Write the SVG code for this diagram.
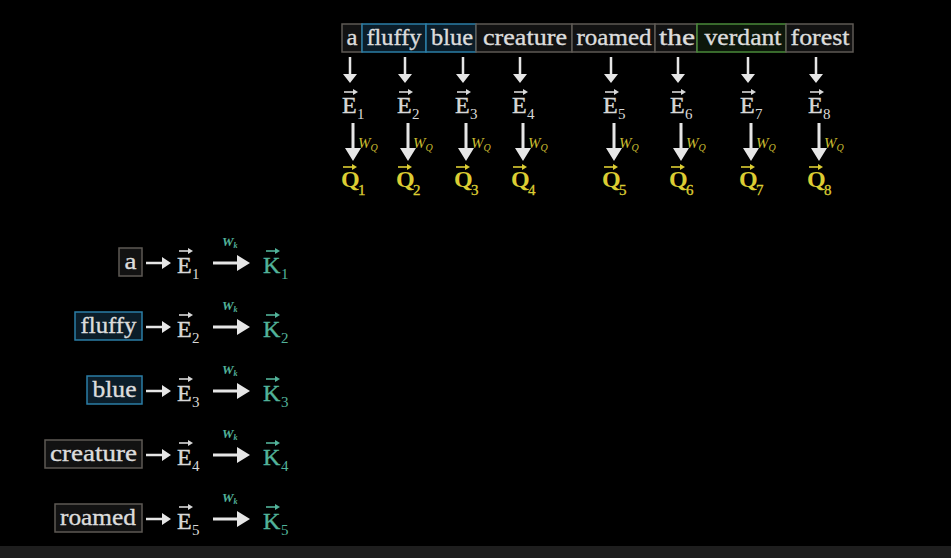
<svg xmlns="http://www.w3.org/2000/svg" width="951" height="558" viewBox="0 0 951 558">
<style>
text{font-family:"Liberation Serif","DejaVu Serif",serif}
.bg{fill:#000}
.strip{fill:#1e1e1e}
.w{font-size:24px;fill:#dcdcdc;stroke:#dcdcdc;stroke-width:0.35}
.bn{fill:#121212;stroke:#5e5954;stroke-width:1.5}
.bb{fill:#0b1d29;stroke:#2b7ea6;stroke-width:1.5}
.bg2{fill:#0d170b;stroke:#4a8a3a;stroke-width:1.5}
.ev{font-size:24px;fill:#d8d8d8;stroke:#d8d8d8;stroke-width:0.4}
.evs{font-size:15px;fill:#d8d8d8}
.qv{font-size:24px;fill:#dccd33;font-weight:bold}
.qvs{font-size:15px;fill:#dccd33;stroke:#dccd33;stroke-width:0.3}
.kv{font-size:24px;fill:#52b39a;stroke:#52b39a;stroke-width:0.4}
.kvs{font-size:15px;fill:#52b39a}
.wq{font-style:italic;font-size:15px;fill:#c9bc30}
.wqs{font-style:italic;font-size:10px;fill:#c9bc30}
.wk{font-style:italic;font-size:13px;fill:#52b39a;font-weight:bold}
.wks{font-style:italic;font-size:8px;fill:#52b39a;font-weight:bold}
.sh{stroke:#e6e6e6;stroke-width:2.5;fill:none}
.sh2{stroke:#e6e6e6;stroke-width:3;fill:none}
.hd{fill:#e6e6e6}
.va{stroke-width:1.6;fill:none}
</style>
<rect class="bg" x="0" y="0" width="951" height="558"/>
<rect class="strip" x="0" y="546" width="951" height="12"/>

<!-- top row words -->
<g id="tw-a"><rect class="bn" x="342" y="24" width="20" height="28"/><text class="w" x="352" y="45" text-anchor="middle" textLength="11" lengthAdjust="spacingAndGlyphs">a</text></g>
<g id="tw-fluffy"><rect class="bb" x="362" y="24" width="64" height="28"/><text class="w" x="394" y="45" text-anchor="middle" textLength="55" lengthAdjust="spacingAndGlyphs">fluffy</text></g>
<g id="tw-blue"><rect class="bb" x="426" y="24" width="50" height="28"/><text class="w" x="452" y="45" text-anchor="middle" textLength="42" lengthAdjust="spacingAndGlyphs">blue</text></g>
<g id="tw-creature"><rect class="bn" x="476" y="24" width="96" height="28"/><text class="w" x="525" y="45" text-anchor="middle" textLength="84" lengthAdjust="spacingAndGlyphs">creature</text></g>
<g id="tw-roamed"><rect class="bn" x="572" y="24" width="83" height="28"/><text class="w" x="614" y="45" text-anchor="middle" textLength="75" lengthAdjust="spacingAndGlyphs">roamed</text></g>
<g id="tw-the"><rect class="bn" x="655" y="24" width="42" height="28"/><text class="w" x="677" y="45" text-anchor="middle" textLength="36" lengthAdjust="spacingAndGlyphs">the</text></g>
<g id="tw-verdant"><rect class="bg2" x="697" y="24" width="89" height="28"/><text class="w" x="743" y="45" text-anchor="middle" textLength="77" lengthAdjust="spacingAndGlyphs">verdant</text></g>
<g id="tw-forest"><rect class="bn" x="786" y="24" width="67" height="28"/><text class="w" x="820" y="45" text-anchor="middle" textLength="59" lengthAdjust="spacingAndGlyphs">forest</text></g>

<!-- top embeddings and queries -->
<g id="te1"><text class="ev" x="342" y="113">E</text><text class="evs" x="357" y="119">1</text><path class="va" stroke="#d8d8d8" d="M344 92H354"/><path fill="#d8d8d8" d="M358 92l-5-3v6z"/></g>
<g id="te2"><text class="ev" x="397" y="113">E</text><text class="evs" x="412" y="119">2</text><path class="va" stroke="#d8d8d8" d="M399 92H409"/><path fill="#d8d8d8" d="M413 92l-5-3v6z"/></g>
<g id="te3"><text class="ev" x="455" y="113">E</text><text class="evs" x="470" y="119">3</text><path class="va" stroke="#d8d8d8" d="M457 92H467"/><path fill="#d8d8d8" d="M471 92l-5-3v6z"/></g>
<g id="te4"><text class="ev" x="512" y="113">E</text><text class="evs" x="527" y="119">4</text><path class="va" stroke="#d8d8d8" d="M514 92H524"/><path fill="#d8d8d8" d="M528 92l-5-3v6z"/></g>
<g id="te5"><text class="ev" x="603" y="113">E</text><text class="evs" x="618" y="119">5</text><path class="va" stroke="#d8d8d8" d="M605 92H615"/><path fill="#d8d8d8" d="M619 92l-5-3v6z"/></g>
<g id="te6"><text class="ev" x="670" y="113">E</text><text class="evs" x="685" y="119">6</text><path class="va" stroke="#d8d8d8" d="M672 92H682"/><path fill="#d8d8d8" d="M686 92l-5-3v6z"/></g>
<g id="te7"><text class="ev" x="740" y="113">E</text><text class="evs" x="755" y="119">7</text><path class="va" stroke="#d8d8d8" d="M742 92H752"/><path fill="#d8d8d8" d="M756 92l-5-3v6z"/></g>
<g id="te8"><text class="ev" x="808" y="113">E</text><text class="evs" x="823" y="119">8</text><path class="va" stroke="#d8d8d8" d="M810 92H820"/><path fill="#d8d8d8" d="M824 92l-5-3v6z"/></g>

<g id="tq1"><text class="qv" x="341" y="187">Q</text><text class="qvs" x="358" y="195">1</text><path class="va" stroke="#dccd33" d="M343 167H353"/><path fill="#dccd33" d="M357 167l-5-3v6z"/></g>
<g id="tq2"><text class="qv" x="396" y="187">Q</text><text class="qvs" x="413" y="195">2</text><path class="va" stroke="#dccd33" d="M398 167H408"/><path fill="#dccd33" d="M412 167l-5-3v6z"/></g>
<g id="tq3"><text class="qv" x="454" y="187">Q</text><text class="qvs" x="471" y="195">3</text><path class="va" stroke="#dccd33" d="M456 167H466"/><path fill="#dccd33" d="M470 167l-5-3v6z"/></g>
<g id="tq4"><text class="qv" x="511" y="187">Q</text><text class="qvs" x="528" y="195">4</text><path class="va" stroke="#dccd33" d="M513 167H523"/><path fill="#dccd33" d="M527 167l-5-3v6z"/></g>
<g id="tq5"><text class="qv" x="602" y="187">Q</text><text class="qvs" x="619" y="195">5</text><path class="va" stroke="#dccd33" d="M604 167H614"/><path fill="#dccd33" d="M618 167l-5-3v6z"/></g>
<g id="tq6"><text class="qv" x="669" y="187">Q</text><text class="qvs" x="686" y="195">6</text><path class="va" stroke="#dccd33" d="M671 167H681"/><path fill="#dccd33" d="M685 167l-5-3v6z"/></g>
<g id="tq7"><text class="qv" x="739" y="187">Q</text><text class="qvs" x="756" y="195">7</text><path class="va" stroke="#dccd33" d="M741 167H751"/><path fill="#dccd33" d="M755 167l-5-3v6z"/></g>
<g id="tq8"><text class="qv" x="807" y="187">Q</text><text class="qvs" x="824" y="195">8</text><path class="va" stroke="#dccd33" d="M809 167H819"/><path fill="#dccd33" d="M823 167l-5-3v6z"/></g>

<!-- left column -->
<g id="lw-a"><rect class="bn" x="119" y="248" width="23" height="28"/><text class="w" x="130.5" y="269" text-anchor="middle" textLength="12" lengthAdjust="spacingAndGlyphs">a</text></g>
<g id="lw-fluffy"><rect class="bb" x="75" y="312" width="67" height="28"/><text class="w" x="108.5" y="333" text-anchor="middle" textLength="56" lengthAdjust="spacingAndGlyphs">fluffy</text></g>
<g id="lw-blue"><rect class="bb" x="87" y="376" width="55" height="28"/><text class="w" x="114.5" y="397" text-anchor="middle" textLength="44" lengthAdjust="spacingAndGlyphs">blue</text></g>
<g id="lw-creature"><rect class="bn" x="45" y="440" width="97" height="28"/><text class="w" x="93.5" y="461" text-anchor="middle" textLength="87" lengthAdjust="spacingAndGlyphs">creature</text></g>
<g id="lw-roamed"><rect class="bn" x="55" y="504" width="87" height="28"/><text class="w" x="98" y="525" text-anchor="middle" textLength="76" lengthAdjust="spacingAndGlyphs">roamed</text></g>

<g id="le1"><text class="ev" x="177" y="273">E</text><text class="evs" x="192" y="279">1</text><path class="va" stroke="#d8d8d8" d="M179 251H189"/><path fill="#d8d8d8" d="M193 251l-5-3v6z"/></g>
<g id="le2"><text class="ev" x="177" y="337">E</text><text class="evs" x="192" y="343">2</text><path class="va" stroke="#d8d8d8" d="M179 315H189"/><path fill="#d8d8d8" d="M193 315l-5-3v6z"/></g>
<g id="le3"><text class="ev" x="177" y="401">E</text><text class="evs" x="192" y="407">3</text><path class="va" stroke="#d8d8d8" d="M179 379H189"/><path fill="#d8d8d8" d="M193 379l-5-3v6z"/></g>
<g id="le4"><text class="ev" x="177" y="465">E</text><text class="evs" x="192" y="471">4</text><path class="va" stroke="#d8d8d8" d="M179 443H189"/><path fill="#d8d8d8" d="M193 443l-5-3v6z"/></g>
<g id="le5"><text class="ev" x="177" y="529">E</text><text class="evs" x="192" y="535">5</text><path class="va" stroke="#d8d8d8" d="M179 507H189"/><path fill="#d8d8d8" d="M193 507l-5-3v6z"/></g>

<g id="lk1"><text class="kv" x="263" y="273">K</text><text class="kvs" x="281" y="279">1</text><path class="va" stroke="#52b39a" d="M266 251H276"/><path fill="#52b39a" d="M280 251l-5-3v6z"/></g>
<g id="lk2"><text class="kv" x="263" y="337">K</text><text class="kvs" x="281" y="343">2</text><path class="va" stroke="#52b39a" d="M266 315H276"/><path fill="#52b39a" d="M280 315l-5-3v6z"/></g>
<g id="lk3"><text class="kv" x="263" y="401">K</text><text class="kvs" x="281" y="407">3</text><path class="va" stroke="#52b39a" d="M266 379H276"/><path fill="#52b39a" d="M280 379l-5-3v6z"/></g>
<g id="lk4"><text class="kv" x="263" y="465">K</text><text class="kvs" x="281" y="471">4</text><path class="va" stroke="#52b39a" d="M266 443H276"/><path fill="#52b39a" d="M280 443l-5-3v6z"/></g>
<g id="lk5"><text class="kv" x="263" y="529">K</text><text class="kvs" x="281" y="535">5</text><path class="va" stroke="#52b39a" d="M266 507H276"/><path fill="#52b39a" d="M280 507l-5-3v6z"/></g>

<!-- connectors -->
<g id="connectors">
<path class="sh" d="M350 57V75M405 57V75M463 57V75M520 57V75M611 57V75M678 57V75M748 57V75M816 57V75"/>
<path class="hd" d="M343 74h14l-7 9zM398 74h14l-7 9zM456 74h14l-7 9zM513 74h14l-7 9zM604 74h14l-7 9zM671 74h14l-7 9zM741 74h14l-7 9zM809 74h14l-7 9z"/>
<path class="sh2" d="M353 123V149M408 123V149M466 123V149M523 123V149M614 123V149M681 123V149M751 123V149M819 123V149"/>
<path class="hd" d="M345 148h16l-8 13zM400 148h16l-8 13zM458 148h16l-8 13zM515 148h16l-8 13zM606 148h16l-8 13zM673 148h16l-8 13zM743 148h16l-8 13zM811 148h16l-8 13z"/>
<path class="sh" d="M146 263H163M146 327H163M146 391H163M146 455H163M146 519H163"/>
<path class="hd" d="M162 257v12l9-6zM162 321v12l9-6zM162 385v12l9-6zM162 449v12l9-6zM162 513v12l9-6z"/>
<path class="sh2" d="M213 263H238M213 327H238M213 391H238M213 455H238M213 519H238"/>
<path class="hd" d="M237 255v16l13-8zM237 319v16l13-8zM237 383v16l13-8zM237 447v16l13-8zM237 511v16l13-8z"/>
</g>

<g id="wq-labels">
<text class="wq" x="358" y="148">W<tspan class="wqs" dy="3">Q</tspan></text>
<text class="wq" x="413" y="148">W<tspan class="wqs" dy="3">Q</tspan></text>
<text class="wq" x="471" y="148">W<tspan class="wqs" dy="3">Q</tspan></text>
<text class="wq" x="528" y="148">W<tspan class="wqs" dy="3">Q</tspan></text>
<text class="wq" x="619" y="148">W<tspan class="wqs" dy="3">Q</tspan></text>
<text class="wq" x="686" y="148">W<tspan class="wqs" dy="3">Q</tspan></text>
<text class="wq" x="756" y="148">W<tspan class="wqs" dy="3">Q</tspan></text>
<text class="wq" x="824" y="148">W<tspan class="wqs" dy="3">Q</tspan></text>
</g>
<g id="wk-labels">
<text class="wk" x="222" y="246">W<tspan class="wks" dy="2">k</tspan></text>
<text class="wk" x="222" y="310">W<tspan class="wks" dy="2">k</tspan></text>
<text class="wk" x="222" y="374">W<tspan class="wks" dy="2">k</tspan></text>
<text class="wk" x="222" y="438">W<tspan class="wks" dy="2">k</tspan></text>
<text class="wk" x="222" y="502">W<tspan class="wks" dy="2">k</tspan></text>
</g>
</svg>
